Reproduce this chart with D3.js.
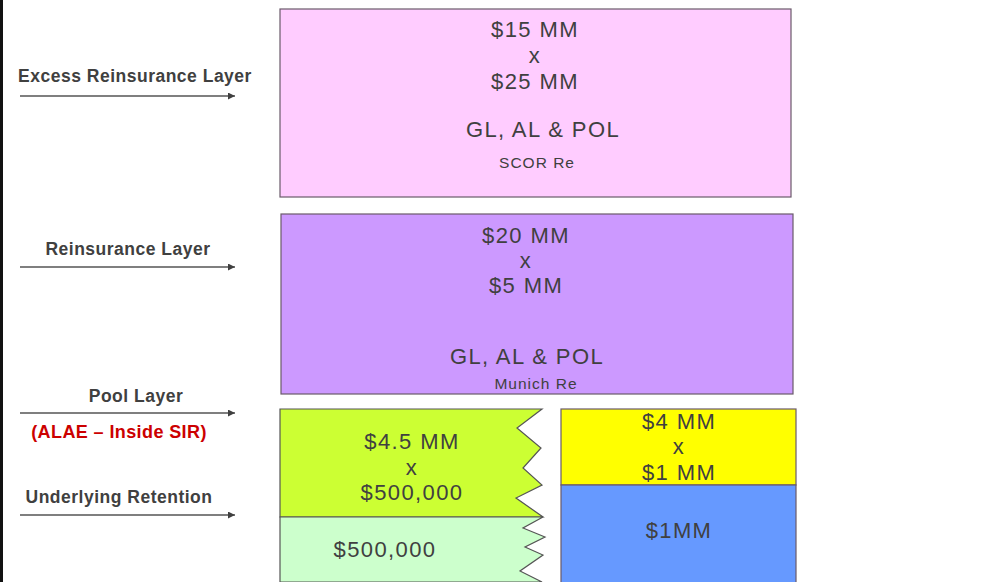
<!DOCTYPE html>
<html>
<head>
<meta charset="utf-8">
<script src="https://cdn.jsdelivr.net/npm/d3@7"></script>
<style>
  html, body { margin: 0; padding: 0; background: #fff; }
  svg { display: block; }
</style>
</head>
<body>
<svg id="chart" width="982" height="582"></svg>
<script>
// Data
const sideLabels = ["Excess Reinsurance Layer", "Reinsurance Layer", "Pool Layer", "Underlying Retention"];
const sideNote = "(ALAE – Inside SIR)";
const layerNames = ["excess", "reins", "pool", "retention", "aggPool", "aggRetention"];
const layerLines = [
    ["$15 MM", "x", "$25 MM"],
    ["$20 MM", "x", "$5 MM"],
    ["$4.5 MM", "x", "$500,000"],
    ["$500,000"],
    ["$4 MM", "x", "$1 MM"],
    ["$1MM"]
];
const coverage = ["GL, AL & POL", "GL, AL & POL", null, null, null, null];
const reinsurers = ["SCOR Re", "Munich Re", null, null, null, null];

// Layout (pixels)
const svg = d3.select("#chart");
const textColor = "#404040";
const boxFont = "'Liberation Sans', Arial, sans-serif";

const boxes = {
    excess:       { x0: 280, x1: 791, y0: 9,   y1: 197, fill: "#FFCCFF", tx: 535, ty: [37, 63, 89], cy: 137, ry: 168, cx: 543, rx: 537 },
    reins:        { x0: 281, x1: 793, y0: 214, y1: 394, fill: "#CC99FF", tx: 526, ty: [243, 268, 293], cy: 364, ry: 389, cx: 527, rx: 536 },
    pool:         { fill: "#CCFF33", tx: 412, ty: [449, 475, 500],
                    pts: [[280,409],[542,409],[517,428],[541,448],[523,468],[542,485],[516,498],[543,517],[280,517]] },
    retention:    { fill: "#CCFFCC", tx: 385, ty: [557],
                    pts: [[280,517],[543,517],[523,528],[545,537],[525,547],[543,555],[520,571],[542,582],[280,582]] },
    aggPool:      { x0: 561, x1: 796, y0: 409, y1: 485, fill: "#FFFF00", tx: 679, ty: [429, 454, 480] },
    aggRetention: { x0: 561, x1: 796, y0: 485, y1: 584, fill: "#6699FF", tx: 679, ty: [538] }
};

const sideLayout = [
    { x: 135, y: 82, arrowY: 96 },
    { x: 128, y: 255, arrowY: 267 },
    { x: 136, y: 402, arrowY: 413 },
    { x: 119, y: 503, arrowY: 515 }
];

// left edge bar
svg.append("rect").attr("x", 0).attr("y", 0).attr("width", 3).attr("height", 582).attr("fill", "#111");

// arrow marker
svg.append("defs").append("marker")
    .attr("id", "arrow")
    .attr("viewBox", "0 0 10 10")
    .attr("refX", 10).attr("refY", 5)
    .attr("markerWidth", 9).attr("markerHeight", 7)
    .attr("markerUnits", "userSpaceOnUse")
    .attr("orient", "auto")
    .append("path")
    .attr("d", "M0,0 L10,5 L0,10 Z")
    .attr("fill", "#404040");

// Side labels + arrows
const side = svg.append("g").selectAll("g")
    .data(sideLabels)
    .enter()
    .append("g");

side.append("text")
    .attr("x", (d, i) => sideLayout[i].x)
    .attr("y", (d, i) => sideLayout[i].y)
    .attr("text-anchor", "middle")
    .attr("font-family", boxFont)
    .attr("font-weight", "bold")
    .attr("font-size", 17.5)
    .attr("letter-spacing", 0.5)
    .attr("fill", textColor)
    .text(d => d);

side.append("line")
    .attr("x1", 20)
    .attr("x2", 235)
    .attr("y1", (d, i) => sideLayout[i].arrowY)
    .attr("y2", (d, i) => sideLayout[i].arrowY)
    .attr("stroke", "#555")
    .attr("stroke-width", 1.5)
    .attr("marker-end", "url(#arrow)");

svg.append("text")
    .attr("x", 119)
    .attr("y", 438)
    .attr("text-anchor", "middle")
    .attr("font-family", boxFont)
    .attr("font-weight", "bold")
    .attr("font-size", 18)
    .attr("letter-spacing", 0.4)
    .attr("fill", "#CC0000")
    .text(sideNote);

// Layer boxes
const line = d3.line();
layerNames.forEach((name, i) => {
    const b = boxes[name];
    const g = svg.append("g");
    if (b.pts) {
        g.append("path")
            .attr("d", line(b.pts) + "Z")
            .attr("fill", b.fill)
            .attr("stroke", "#555")
            .attr("stroke-width", 1.2);
    } else {
        g.append("rect")
            .attr("x", b.x0).attr("y", b.y0)
            .attr("width", b.x1 - b.x0).attr("height", b.y1 - b.y0)
            .attr("fill", b.fill)
            .attr("stroke", "#6a5a6a")
            .attr("stroke-width", 1.2);
    }

    g.selectAll("text.amt")
        .data(layerLines[i])
        .enter()
        .append("text")
        .attr("class", "amt")
        .attr("x", b.tx)
        .attr("y", (d, j) => b.ty[j])
        .attr("text-anchor", "middle")
        .attr("font-family", boxFont)
        .attr("font-size", 22)
        .attr("letter-spacing", 1.4)
        .attr("fill", textColor)
        .text(d => d);

    if (coverage[i]) {
        g.append("text")
            .attr("x", b.cx).attr("y", b.cy)
            .attr("text-anchor", "middle")
            .attr("font-family", boxFont)
            .attr("font-size", 22)
            .attr("letter-spacing", 1.4)
            .attr("fill", textColor)
            .text(coverage[i]);
    }
    if (reinsurers[i]) {
        g.append("text")
            .attr("x", b.rx).attr("y", b.ry)
            .attr("text-anchor", "middle")
            .attr("font-family", boxFont)
            .attr("font-size", 15.5)
            .attr("letter-spacing", 1)
            .attr("fill", textColor)
            .text(reinsurers[i]);
    }
});
</script>
</body>
</html>
